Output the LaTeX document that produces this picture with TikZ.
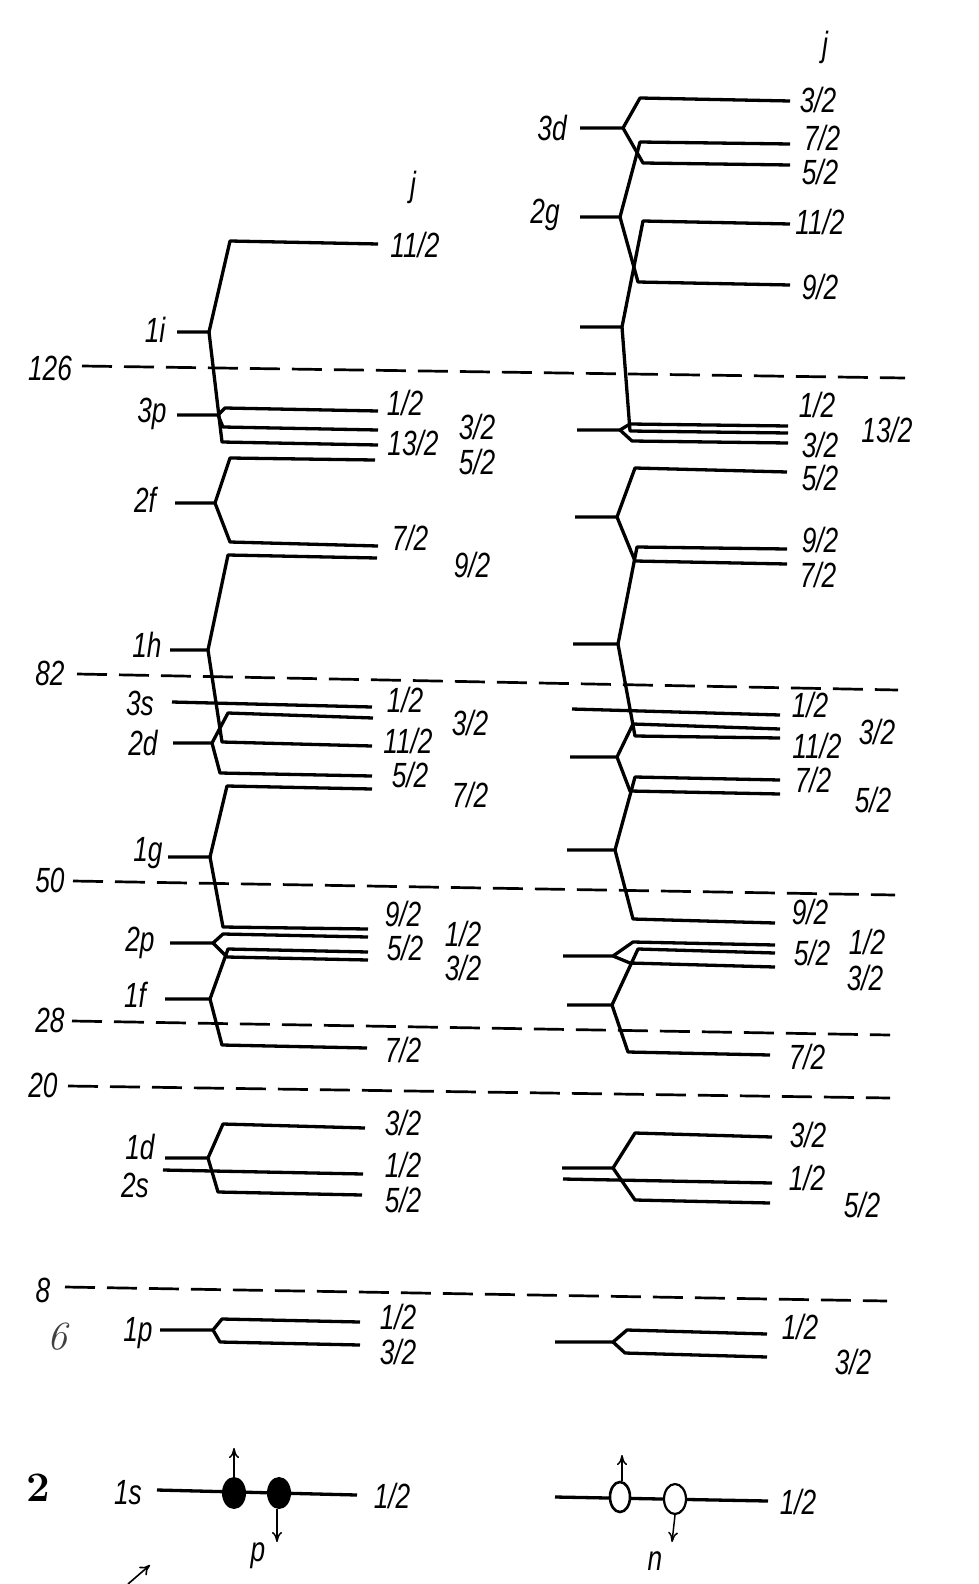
\documentclass[tikz,border=0pt]{standalone}
\usepackage{fontspec}
\usetikzlibrary{arrows.meta}
\newfontfamily\levfont{Liberation Sans}[FakeStretch=0.75]
\begin{document}
\begin{tikzpicture}[x=1pt,y=-1pt,
  lev/.style={line width=3.3pt,line join=round},
  magic/.style={line width=2.7pt,dash pattern=on 30pt off 12pt},
  lab/.style={font=\levfont\itshape\fontsize{35}{38}\selectfont,inner sep=0pt},
  spin/.style={line width=1.5pt,-{To[length=10pt,width=10pt]}}]
\useasboundingbox (0,0) rectangle (978,1584);
% ---------- magic numbers (dashed) ----------
\draw[magic] (82,366) -- (905,378);
\draw[magic] (77,674) -- (898,690);
\draw[magic] (73,881) -- (895,895);
\draw[magic] (72,1021) -- (890,1035);
\draw[magic] (68,1086) -- (890,1098);
\draw[magic] (65,1287) -- (887,1301);
\node[lab] (m126) at (50,368) {126};
\node[lab] (m82) at (50,673) {82};
\node[lab] (m50) at (50,880) {50};
\node[lab] (m28) at (50,1020) {28};
\node[lab] (m20) at (43,1085) {20};
\node[lab] (m8) at (43,1290) {8};
\node[font=\itshape\fontsize{40}{42}\selectfont,text=black!75] (m6) at (57,1337) {6};
\node[font=\bfseries\fontsize{42}{44}\selectfont] (m2) at (38,1488) {2};
% ---------- LEFT: protons ----------
\node[lab] (Lj) at (413,187) {j};
% 1i
\draw[lev] (177,332) -- (209,332) -- (230,241) -- (378,244);
\draw[lev] (209,332) -- (222,442) -- (378,445);
% 3p
\draw[lev] (177,415) -- (218,415) -- (225,408) -- (378,411);
\draw[lev] (218,415) -- (223,427) -- (378,430);
% 2f
\draw[lev] (175,503) -- (215,503) -- (230,458) -- (375,460);
\draw[lev] (215,503) -- (230,542) -- (378,546);
% 1h
\draw[lev] (170,650) -- (208,650) -- (228,555) -- (377,558);
\draw[lev] (208,650) -- (222,742) -- (372,746);
% 3s
\draw[lev] (172,702) -- (372,707);
% 2d
\draw[lev] (173,743) -- (212,743) -- (228,713) -- (373,718);
\draw[lev] (212,743) -- (220,773) -- (372,776);
% 1g
\draw[lev] (168,857) -- (210,857) -- (227,786) -- (372,789);
\draw[lev] (210,857) -- (223,927) -- (368,929);
% 2p
\draw[lev] (170,943) -- (213,943) -- (223,934) -- (368,937);
\draw[lev] (213,943) -- (227,957) -- (368,960);
% 1f
\draw[lev] (165,999) -- (210,999) -- (228,949) -- (368,952);
\draw[lev] (210,999) -- (222,1045) -- (367,1048);
% 1d
\draw[lev] (165,1158) -- (208,1158) -- (223,1124) -- (365,1128);
\draw[lev] (208,1158) -- (218,1192) -- (362,1195);
% 2s
\draw[lev] (163,1170) -- (363,1174);
% 1p
\draw[lev] (160,1330) -- (213,1330) -- (222,1319) -- (360,1322);
\draw[lev] (213,1330) -- (220,1342) -- (360,1345);
% 1s
\draw[lev] (157,1490) -- (357,1495);
% shell labels left
\node[lab] (L1i) at (155,330) {1i};
\node[lab] (L3p) at (152,414) {3p};
\node[lab] (L2f) at (145,500) {2f};
\node[lab] (L1h) at (147,645) {1h};
\node[lab] (L3s) at (140,703) {3s};
\node[lab] (L2d) at (143,743) {2d};
\node[lab] (L1g) at (148,853) {1g};
\node[lab] (L2p) at (140,943) {2p};
\node[lab] (L1f) at (135,995) {1f};
\node[lab] (L1d) at (140,1147) {1d};
\node[lab] (L2s) at (135,1185) {2s};
\node[lab] (L1p) at (138,1333) {1p};
\node[lab] (L1s) at (128,1493) {1s};
% j labels left
\node[lab] (La1) at (415,245) {11/2};
\node[lab] (La2) at (405,403) {1/2};
\node[lab] (La3) at (477,427) {3/2};
\node[lab] (La4) at (413,443) {13/2};
\node[lab] (La5) at (477,462) {5/2};
\node[lab] (La6) at (410,538) {7/2};
\node[lab] (La7) at (472,565) {9/2};
\node[lab] (La8) at (405,700) {1/2};
\node[lab] (La9) at (470,723) {3/2};
\node[lab] (La10) at (408,741) {11/2};
\node[lab] (La11) at (410,775) {5/2};
\node[lab] (La12) at (470,795) {7/2};
\node[lab] (La13) at (403,914) {9/2};
\node[lab] (La14) at (463,934) {1/2};
\node[lab] (La15) at (405,948) {5/2};
\node[lab] (La16) at (463,968) {3/2};
\node[lab] (La17) at (403,1050) {7/2};
\node[lab] (La18) at (403,1123) {3/2};
\node[lab] (La19) at (403,1165) {1/2};
\node[lab] (La20) at (403,1200) {5/2};
\node[lab] (La21) at (398,1317) {1/2};
\node[lab] (La22) at (398,1352) {3/2};
\node[lab] (La23) at (392,1496) {1/2};
% protons in 1s
\fill (234,1493) ellipse [x radius=12, y radius=16];
\fill (279,1493) ellipse [x radius=12, y radius=16];
\draw[spin] (234,1477) -- (234,1448);
\draw[spin] (277,1509) -- (277,1542);
\node[lab] (Lp) at (258,1556) {p};
\draw[line width=1.6pt,-{To[length=10pt,width=11pt]}] (128,1584) -- (150,1565);
% ---------- RIGHT: neutrons ----------
\node[lab] (Rj) at (825,47) {j};
% 3d
\draw[lev] (580,128) -- (623,128) -- (640,98) -- (790,101);
\draw[lev] (623,128) -- (643,163) -- (790,165);
% 2g
\draw[lev] (580,217) -- (620,217) -- (640,142) -- (790,144);
\draw[lev] (620,217) -- (638,282) -- (790,285);
% 1i
\draw[lev] (580,327) -- (622,327) -- (643,221) -- (790,224);
\draw[lev] (622,327) -- (630,431) -- (788,433);
% 3p
\draw[lev] (577,430) -- (620,430) -- (630,424) -- (788,426);
\draw[lev] (620,430) -- (632,441) -- (788,443);
% 2f
\draw[lev] (575,517) -- (617,517) -- (635,468) -- (787,472);
\draw[lev] (617,517) -- (635,561) -- (787,564);
% 1h
\draw[lev] (573,644) -- (618,644) -- (637,547) -- (787,549);
\draw[lev] (618,644) -- (635,736) -- (780,738);
% 3s
\draw[lev] (572,709) -- (780,715);
% 2d
\draw[lev] (570,757) -- (617,757) -- (633,724) -- (780,729);
\draw[lev] (617,757) -- (630,791) -- (780,794);
% 1g
\draw[lev] (567,850) -- (615,850) -- (635,777) -- (780,780);
\draw[lev] (615,850) -- (633,919) -- (775,923);
% 2p
\draw[lev] (563,956) -- (613,956) -- (633,942) -- (775,945);
\draw[lev] (613,956) -- (630,963) -- (775,967);
% 1f
\draw[lev] (567,1005) -- (612,1005) -- (638,949) -- (775,953);
\draw[lev] (612,1005) -- (628,1052) -- (770,1055);
% 1d
\draw[lev] (562,1168) -- (613,1168) -- (635,1133) -- (772,1137);
\draw[lev] (613,1168) -- (635,1200) -- (770,1203);
% 2s
\draw[lev] (563,1179) -- (772,1183);
% 1p
\draw[lev] (555,1342) -- (613,1342) -- (627,1330) -- (767,1334);
\draw[lev] (613,1342) -- (625,1353) -- (767,1357);
% 1s
\draw[lev] (555,1497) -- (768,1501);
% shell labels right
\node[lab] (R3d) at (552,128) {3d};
\node[lab] (R2g) at (545,215) {2g};
% j labels right
\node[lab] (Rb1) at (818,100) {3/2};
\node[lab] (Rb2) at (822,138) {7/2};
\node[lab] (Rb3) at (820,172) {5/2};
\node[lab] (Rb4) at (820,222) {11/2};
\node[lab] (Rb5) at (820,287) {9/2};
\node[lab] (Rb6) at (817,405) {1/2};
\node[lab] (Rb7) at (887,430) {13/2};
\node[lab] (Rb8) at (820,445) {3/2};
\node[lab] (Rb9) at (820,478) {5/2};
\node[lab] (Rb10) at (820,540) {9/2};
\node[lab] (Rb11) at (818,575) {7/2};
\node[lab] (Rb12) at (810,705) {1/2};
\node[lab] (Rb13) at (877,732) {3/2};
\node[lab] (Rb14) at (817,746) {11/2};
\node[lab] (Rb15) at (813,780) {7/2};
\node[lab] (Rb16) at (873,800) {5/2};
\node[lab] (Rb17) at (810,912) {9/2};
\node[lab] (Rb18) at (867,942) {1/2};
\node[lab] (Rb19) at (812,953) {5/2};
\node[lab] (Rb20) at (865,978) {3/2};
\node[lab] (Rb21) at (807,1057) {7/2};
\node[lab] (Rb22) at (808,1135) {3/2};
\node[lab] (Rb23) at (807,1178) {1/2};
\node[lab] (Rb24) at (862,1205) {5/2};
\node[lab] (Rb25) at (800,1327) {1/2};
\node[lab] (Rb26) at (853,1362) {3/2};
\node[lab] (Rb27) at (798,1502) {1/2};
% neutrons in 1s
\draw[line width=2.6pt,fill=white] (620,1497) ellipse [x radius=10, y radius=15];
\draw[line width=2.2pt,fill=white] (675,1499) ellipse [x radius=11, y radius=15];
\draw[spin] (622,1481) -- (622,1455);
\draw[spin] (675,1515) -- (672,1542);
\node[lab] (Rn) at (655,1561) {n};
\end{tikzpicture}
\end{document}
